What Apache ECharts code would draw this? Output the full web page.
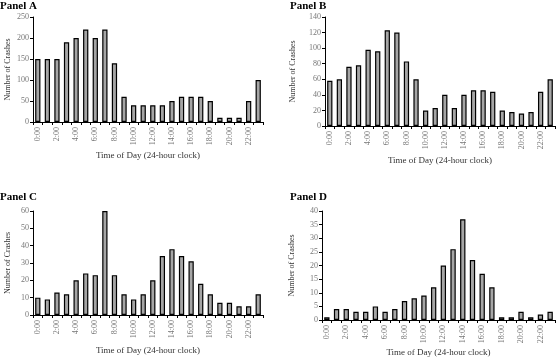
<!DOCTYPE html>
<html><head><meta charset="utf-8">
<script src="https://cdn.jsdelivr.net/npm/echarts@6/dist/echarts.min.js"></script>
<style>html,body{margin:0;padding:0;background:#fff}#c{width:557px;height:358px}</style>
</head><body><div id="c"></div>
<script>
const hours = ["0:00","1:00","2:00","3:00","4:00","5:00","6:00","7:00","8:00","9:00","10:00","11:00","12:00","13:00","14:00","15:00","16:00","17:00","18:00","19:00","20:00","21:00","22:00","23:00"];
const panelA = [150,150,150,190,200,220,200,220,140,60,40,40,40,40,50,60,60,60,50,10,10,10,50,100];
const panelB = [58,60,76,78,98,96,123,120,83,60,20,23,40,23,40,46,46,44,20,18,16,18,44,60];
const panelC = [10,9,13,12,20,24,23,60,23,12,9,12,20,34,38,34,31,18,12,7,7,5,5,12];
const panelD = [1,4,4,3,3,5,3,4,7,8,9,12,20,26,37,22,17,12,1,1,3,1,2,3];
const titles = ["Panel A","Panel B","Panel C","Panel D"];
const yMax = [250,140,60,40];
const yStep = [50,20,10,5];
const FONT = "Liberation Serif";

const grids = [
  {left:33, top:17, width:230, height:105},
  {left:325, top:17, width:230, height:109},
  {left:33, top:211, width:230, height:104},
  {left:322, top:211, width:233, height:109}
];
const titlePos = [[0,1],[290,1],[0,192],[290,192]];
const xNamePos = [155,160,350,352];
const yNameX = [8,293,8,292];
const data = [panelA,panelB,panelC,panelD];

const option = {
  animation:false,
  title: titles.map((t,i)=>({text:t,left:titlePos[i][0],top:titlePos[i][1],padding:0,textStyle:{fontFamily:FONT,fontSize:11,fontWeight:'bold',color:'#000'}})),
  grid: grids.map(g=>Object.assign({containLabel:false},g)),
  xAxis: grids.map((g,i)=>({
    type:'category', gridIndex:i, data:hours,
    axisLine:{lineStyle:{color:'#000',width:1}},
    axisTick:{show:true,interval:0,length:3,lineStyle:{color:'#000'}},
    axisLabel:{interval:1,rotate:90,fontFamily:FONT,fontSize:8,color:'#777',margin:5},
    name:'Time of Day (24-hour clock)', nameLocation:'middle', nameGap: xNamePos[i]-(g.top+g.height)-4,
    nameTextStyle:{fontFamily:FONT,fontSize:9,color:'#333'}
  })),
  yAxis: grids.map((g,i)=>({
    type:'value', gridIndex:i, min:0, max:yMax[i], interval:yStep[i],
    splitLine:{show:false},
    axisLine:{show:true,lineStyle:{color:'#000',width:1}},
    axisTick:{show:true,length:3,lineStyle:{color:'#000'}},
    axisLabel:{fontFamily:FONT,fontSize:8,color:'#777',margin:4},
    name:'Number of Crashes', nameLocation:'middle', nameGap: g.left - yNameX[i] - 4,
    nameTextStyle:{fontFamily:FONT,fontSize:8,color:'#333'}
  })),
  series: data.map((d,i)=>({
    type:'bar', xAxisIndex:i, yAxisIndex:i, data:d, barWidth:'55%',
    itemStyle:{color:'#a6a6a6',borderColor:'#000',borderWidth:1.2}
  }))
};
echarts.init(document.getElementById('c')).setOption(option);
</script></body></html>
